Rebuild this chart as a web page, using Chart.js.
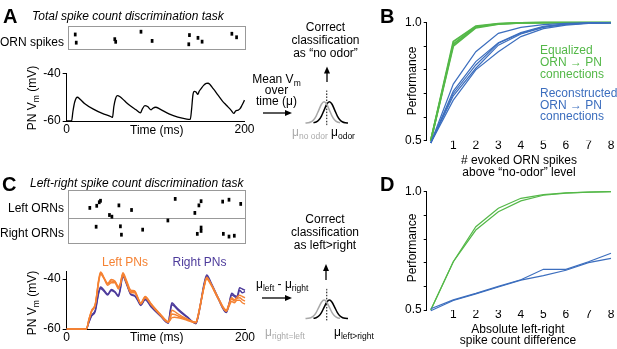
<!DOCTYPE html>
<html>
<head>
<meta charset="utf-8">
<script src="https://cdn.jsdelivr.net/npm/chart.js@4.4.1/dist/chart.umd.min.js"></script>
<style>
body { margin: 0; background: #fff; }
#fig { position: relative; width: 617px; height: 349px; overflow: hidden; font-family: "Liberation Sans", Arial, sans-serif; font-size: 12px; color: #000; }
#fig canvas, .t { position: absolute; }
.t { white-space: nowrap; line-height: 12px; }
.big { font-weight: bold; font-size: 20px; line-height: 20px; }
.it { font-style: italic; }
.c { text-align: center; }
.r { text-align: right; }
.rot { transform: translate(-50%, -50%) rotate(-90deg); }
sub { font-size: 8.5px; vertical-align: baseline; position: relative; top: 3px; }
.box { position: absolute; border: 1px solid #999; box-sizing: border-box; }
.green { color: #54b848; }
.blue { color: #3c6ebe; }
.gray { color: #aaa; }
svg { position: absolute; left: 0; top: 0; }
</style>
</head>
<body>
<div id="fig">
  <div class="box" style="left:68px;top:26px;width:178px;height:24px"></div>
  <div class="box" style="left:68px;top:190px;width:178px;height:54px"></div>
  <div style="position:absolute;left:68px;top:218px;width:178px;height:1px;background:#999"></div>

  <canvas id="rasterA"></canvas>
  <canvas id="traceA"></canvas>
  <canvas id="gaussA"></canvas>
  <canvas id="perfB"></canvas>
  <canvas id="rasterC"></canvas>
  <canvas id="traceC"></canvas>
  <canvas id="gaussC"></canvas>
  <canvas id="perfD"></canvas>

  <svg width="617" height="349">
    <g stroke="#000" stroke-width="1.3" fill="#000">
      <line x1="263" y1="113" x2="286" y2="113"/><polygon points="292,113 285,110 285,116" stroke="none"/>
      <line x1="327" y1="82" x2="327" y2="72"/><polygon points="327,66.5 324,73.5 330,73.5" stroke="none"/>
      <line x1="262" y1="298" x2="286" y2="298"/><polygon points="292,298 285,295 285,301" stroke="none"/>
      <line x1="326" y1="280" x2="326" y2="270"/><polygon points="326,264 323,271 329,271" stroke="none"/>
    </g>
  </svg>

  <div class="t big" style="left:3px;top:6px">A</div>
  <div class="t big" style="left:380px;top:6px">B</div>
  <div class="t big" style="left:2px;top:174px">C</div>
  <div class="t big" style="left:380px;top:174px">D</div>

  <div class="t it" style="left:32px;top:10.3px">Total spike count discrimination task</div>
  <div class="t it" style="left:30px;top:176.5px">Left-right spike count discrimination task</div>

  <div class="t r" style="left:0;top:35.5px;width:64px">ORN spikes</div>
  <div class="t r" style="left:0;top:202px;width:64px">Left ORNs</div>
  <div class="t r" style="left:0;top:226.5px;width:64px">Right ORNs</div>

  <div class="t rot" style="left:31.5px;top:97.5px">PN V<sub>m</sub> (mV)</div>
  <div class="t" style="left:130px;top:123.5px">Time (ms)</div>
  <div class="t rot" style="left:31.5px;top:303px">PN V<sub>m</sub> (mV)</div>
  <div class="t" style="left:130px;top:331px">Time (ms)</div>
  <div class="t" style="left:102px;top:255.5px;color:#f58233">Left PNs</div>
  <div class="t" style="left:172.5px;top:255.5px;color:#4d3b9b">Right PNs</div>

  <div class="t c" style="left:265px;top:21.3px;width:121px;line-height:13px">Correct<br>classification<br>as “no odor”</div>
  <div class="t c" style="left:236.5px;top:73.6px;width:80px;line-height:10.5px">Mean V<sub>m</sub><br>over<br>time (μ)</div>
  <div class="t gray" style="left:292px;top:125.5px">μ<sub>no odor</sub></div>
  <div class="t" style="left:331px;top:126px">μ<sub>odor</sub></div>

  <div class="t c" style="left:265px;top:212.6px;width:120px;line-height:13px">Correct<br>classification<br>as left&gt;right</div>
  <div class="t" style="left:256px;top:278px">μ<sub>left</sub> - μ<sub>right</sub></div>
  <div class="t gray" style="left:265px;top:326px">μ<sub>right=left</sub></div>
  <div class="t" style="left:334px;top:326px">μ<sub>left&gt;right</sub></div>

  <div class="t rot" style="left:411.7px;top:80.8px">Performance</div>
  <div class="t rot" style="left:411.7px;top:247.5px">Performance</div>
  <div class="t c" style="left:459px;top:153.8px;width:120px">#&nbsp;evoked ORN spikes<br>above “no-odor” level</div>
  <div class="t c" style="left:458px;top:323.5px;width:120px;line-height:11px">Absolute left-right<br>spike count difference</div>
  <div class="t green" style="left:540px;top:43.8px">Equalized<br>ORN → PN<br>connections</div>
  <div class="t blue" style="left:540px;top:88px;line-height:11.7px">Reconstructed<br>ORN → PN<br>connections</div>
</div>

<script>
// ---- panel A: ORN raster + PN trace
const aSpikeTimes = [3, 4.2, 49.9, 51, 81, 94.2, 138.5, 137.7, 148.6, 153.5, 188.8, 194.4];
const aSpikeRows = [0.74, 0.18, 0.42, 0.24, 0.93, 0.30, 0.70, 0.07, 0.51, 0.25, 0.79, 0.55];
const aTime = [0, 5.5, 7, 9, 12, 15, 20, 30, 40, 50, 51.5, 53, 55, 57, 60, 65, 70, 78, 83, 85, 88, 91, 95, 97, 100, 105, 115, 125, 135, 139,
  140.5, 142, 143.5, 145.5, 147.5, 149, 151, 154, 157, 159, 165, 170, 175, 180, 185, 188, 190, 193, 195, 197, 200];
const aVm = [-60, -60, -56, -52, -50, -50.8, -52.6, -55, -56.8, -58.2, -58.5, -54, -50.5, -49.3, -49.8, -51.5, -53.2, -55.3, -56.6, -55, -53.5, -53.9, -55.3, -54.6, -54.2, -55, -57, -58.4, -59.2, -59.3,
  -55, -49, -47.5, -47.8, -48.8, -47.5, -46.5, -45, -44.2, -44.1, -46.5, -49, -51.5, -53.5, -55.5, -56.8, -55.8, -55.4, -54.8, -53.5, -51.2];

// ---- schematic gaussians (shared by A and C)
const grayX = [-4, -3.5, -3, -2.5, -2, -1.5, -1, -0.5, 0, 0.5, 1, 1.5, 2, 2.5];
const grayY = [0.002, 0.011, 0.044, 0.135, 0.325, 0.607, 0.882, 1, 0.882, 0.607, 0.325, 0.135, 0.044, 0.011];
const blackX = [-2.5, -2, -1.5, -1, -0.5, 0, 0.5, 1, 1.5, 2, 2.5, 3, 3.5, 4];
const blackY = [0.011, 0.044, 0.135, 0.325, 0.607, 0.882, 1, 0.882, 0.607, 0.325, 0.135, 0.044, 0.011, 0.002];
const cutX = [0, 0];
const cutY = [-0.1, 1.6];

// ---- panel B: performance vs evoked spikes
const spikeCounts = [0, 1, 2, 3, 4, 5, 6, 7, 8];
const countTicks = [1, 2, 3, 4, 5, 6, 7, 8];
const perfTicks = [0.5, 0.6, 0.7, 0.8, 0.9, 1.0];
const bEqualized = [
  [0.5, 0.92, 0.986, 0.996, 0.999, 1, 1, 1, 1],
  [0.5, 0.901, 0.978, 0.994, 0.999, 1, 1, 1, 1],
  [0.5, 0.91, 0.982, 0.995, 0.999, 1, 1, 1, 1]
];
const bReconstructed = [
  [0.49, 0.74, 0.877, 0.955, 0.98, 0.992, 0.997, 0.999, 1],
  [0.49, 0.71, 0.835, 0.915, 0.958, 0.985, 0.995, 0.998, 1],
  [0.49, 0.70, 0.821, 0.913, 0.955, 0.982, 0.994, 0.998, 1],
  [0.49, 0.69, 0.807, 0.905, 0.952, 0.98, 0.993, 0.998, 1],
  [0.49, 0.672, 0.80, 0.877, 0.941, 0.975, 0.99, 0.997, 1]
];

// ---- panel C: left / right rasters + PN traces
const cLeftSpikeTimes = [20.3, 28.5, 31.5, 33, 54.8, 69.8, 43.6, 46.5, 121.6, 144.9, 149.7, 152.3, 177.9, 185.4, 199.3];
const cLeftSpikeRows = [1.50, 1.60, 1.77, 1.84, 1.62, 1.40, 1.16, 1.08, 1.93, 1.26, 1.62, 1.82, 1.80, 1.89, 1.69];
const cRightSpikeTimes = [27.8, 56.6, 57.8, 83, 112.9, 147.8, 152.3, 152.3, 178.7, 185.4, 191.7];
const cRightSpikeRows = [0.60, 0.62, 0.22, 0.46, 0.90, 0.26, 0.56, 0.40, 0.26, 0.13, 0.17];
const cTime = [0, 22, 25, 28, 32, 36, 38, 42, 46, 50, 54, 58, 60, 63, 67, 72, 76, 80, 83, 88, 95, 105, 114, 116, 118,
  121, 125, 135, 145, 147, 150, 154, 157, 162, 170, 179, 182, 185, 188, 191, 194, 197, 200];
const cLeftPN = [
  [-60, -60, -56, -52.5, -50, -40, -37.2, -39.5, -41.7, -40.2, -40.8, -43, -42, -37.5, -40.5, -44.5, -44.7, -47.5, -49.7, -47, -50, -54, -57, -55, -52.5,
    -53, -54, -56, -57.3, -55, -50, -43, -39.3, -42, -47.5, -52.4, -50, -47.5, -48.3, -47.3, -46.5, -47, -47.5],
  [-60, -60, -56.5, -53, -50.5, -41, -38, -40, -42.5, -41.5, -41.5, -44, -42.5, -38.5, -41.5, -45.5, -45.5, -48, -50, -47.5, -50.5, -54.5, -57.3, -56.5, -55.5,
    -55.3, -55.5, -56.5, -57.5, -55.5, -50.5, -43.5, -40, -42.5, -48, -53, -51, -49, -49.5, -48.5, -48.5, -49.5, -50],
  [-60, -60, -56, -52.8, -50.3, -40.5, -37.6, -39.8, -42, -40.8, -41, -43.5, -42.2, -38, -41, -45, -45, -47.8, -49.8, -47.2, -50.2, -54.2, -57.2, -56, -54,
    -54.2, -54.8, -56.2, -57.4, -55.2, -50.2, -43.2, -39.6, -42.2, -47.8, -52.7, -50.5, -48, -48.8, -47.8, -47.5, -48.3, -48.8]
];
const cRightPN = [
  [-60, -60, -57, -54.5, -52.5, -45, -43.2, -44.5, -46, -44.2, -45, -46.7, -44, -38.3, -41.5, -46, -46.5, -48.5, -50.4, -48, -51, -54.5, -57.5, -53, -49.5,
    -50.5, -52, -55, -57.7, -55.5, -50, -42, -38.4, -41.5, -47.5, -53.1, -50, -45.7, -46.5, -47, -43.5, -44, -44.5],
  [-60, -60, -57.3, -54.8, -53, -45.5, -43.8, -45, -46.4, -44.6, -45.3, -47, -44.5, -39, -42, -46.3, -46.8, -48.8, -50.6, -48.3, -51.3, -54.8, -57.7, -53.5, -50.3,
    -51, -52.5, -55.3, -57.9, -55.8, -50.5, -42.6, -39, -42, -48, -53.4, -50.5, -46.3, -47, -47.5, -44.5, -45.5, -45]
];
const vmTicks = [-60, -40];
const timeTicks = [0, 200];

// ---- panel D: performance vs left-right difference
const dEqualized = [
  [0.5, 0.704, 0.852, 0.930, 0.972, 0.988, 0.995, 0.998, 1],
  [0.5, 0.704, 0.838, 0.915, 0.961, 0.985, 0.994, 0.998, 1]
];
const dReconstructed = [
  [0.505, 0.543, 0.570, 0.600, 0.628, 0.672, 0.672, 0.704, 0.740],
  [0.497, 0.540, 0.568, 0.597, 0.626, 0.645, 0.668, 0.700, 0.718]
];

const GREEN = '#54b848', BLUE = '#3c6ebe', ORANGE = '#f58233', PURPLE = '#4d3b9b';

Chart.defaults.font.family = '"Liberation Sans", Arial, sans-serif';
Chart.defaults.font.size = 12;
Chart.defaults.color = '#000';
Chart.defaults.animation = false;
Chart.defaults.responsive = false;
Chart.defaults.devicePixelRatio = 1;
Chart.defaults.plugins.legend.display = false;
Chart.defaults.plugins.tooltip.enabled = false;
Chart.defaults.elements.point.radius = 0;

function pts(xs, ys) {
  return xs.map((x, i) => ({ x: x, y: ys[i] }));
}

function line(xs, ys, color, width, extra) {
  return Object.assign({
    data: pts(xs, ys), borderColor: color, borderWidth: width, pointRadius: 0,
    fill: false, clip: false, cubicInterpolationMode: 'monotone'
  }, extra || {});
}

function spikes(xs, ys) {
  return {
    data: pts(xs, ys), showLine: false, pointStyle: 'line', pointRotation: 90,
    pointRadius: 1.9, pointBorderWidth: 2.7, pointBorderColor: '#000', clip: false
  };
}

function tickList(values) {
  return s => { s.ticks = values.map(v => ({ value: v })); };
}

// area = plot rectangle in page pixels, pad = room around it for labels
function place(id, area, pad, datasets, scales, axes) {
  const cv = document.getElementById(id);
  const left = Math.floor(area[0] - pad[0]), top = Math.floor(area[1] - pad[1]);
  const right = Math.ceil(area[2] + pad[2]), bottom = Math.ceil(area[3] + pad[3]);
  cv.width = right - left;
  cv.height = bottom - top;
  cv.style.left = left + 'px';
  cv.style.top = top + 'px';
  const pl = area[0] - left, pt = area[1] - top, pr = right - area[2], pb = bottom - area[3];
  if (axes) {
    scales.y.afterFit = s => { s.width = pl; s.paddingTop = 0; s.paddingBottom = 0; };
    scales.x.afterFit = s => { s.height = pb; s.paddingLeft = 0; s.paddingRight = 0; };
  }
  return new Chart(cv, {
    type: 'line',
    data: { datasets: datasets },
    options: {
      layout: { padding: axes ? { left: 0, top: pt, right: pr, bottom: 0 } : { left: pl, top: pt, right: pr, bottom: pb } },
      scales: scales
    }
  });
}

const hidden = (min, max) => ({ type: 'linear', display: false, min: min, max: max });

function vmScales(yMax) {
  return {
    x: {
      type: 'linear', min: 0, max: 200, afterBuildTicks: tickList(timeTicks),
      grid: { display: false, drawTicks: false }, border: { display: true, color: '#000' },
      ticks: { padding: 1, maxRotation: 0, autoSkip: false }
    },
    y: {
      type: 'linear', min: -60, max: yMax, afterBuildTicks: tickList(vmTicks),
      grid: { display: true, drawOnChartArea: false, tickLength: 4, color: '#000' },
      border: { display: true, color: '#000' },
      ticks: { padding: 2 }
    }
  };
}

function perfScales() {
  return {
    x: {
      type: 'linear', min: -0.18, max: 8, afterBuildTicks: tickList(countTicks),
      grid: { display: false, drawTicks: false }, border: { display: false },
      ticks: { padding: -1, font: { lineHeight: 1 }, maxRotation: 0, autoSkip: false }
    },
    y: {
      type: 'linear', min: 0.5, max: 1, afterBuildTicks: tickList(perfTicks),
      grid: { display: true, drawOnChartArea: false, tickLength: 3, color: '#000' },
      border: { display: true, color: '#000' },
      ticks: { padding: 2, callback: v => (Math.abs(v - 1) < 1e-6 || Math.abs(v - 0.5) < 1e-6) ? v.toFixed(1) : '' }
    }
  };
}

function gaussSets() {
  return [
    line(grayX, grayY, '#a8a8a8', 1.5),
    line(blackX, blackY, '#000', 1.5),
    line(cutX, cutY, '#000', 1, { borderDash: [1.5, 1.5] })
  ];
}

// A
place('rasterA', [68, 26, 245.5, 50], [2, 2, 2, 2],
  [spikes(aSpikeTimes, aSpikeRows)], { x: hidden(0, 200), y: hidden(0, 1) }, false);
place('traceA', [66.7, 73.5, 244.5, 121], [46, 8, 15, 18],
  [line(aTime, aVm, '#000', 1.3)], vmScales(-40), true);
place('gaussA', [305.5, 89, 348, 125.1], [2, 2, 2, 2],
  gaussSets(), { x: hidden(-4, 4), y: hidden(-0.1, 1.6) }, false);

// B
place('perfB', [426.7, 22.7, 611, 140.7], [30, 8, 5, 14],
  bReconstructed.map(ys => line(spikeCounts, ys, BLUE, 1.2, { cubicInterpolationMode: 'default', tension: 0 }))
    .concat(bEqualized.map(ys => line(spikeCounts, ys, GREEN, 1.8, { cubicInterpolationMode: 'default', tension: 0 }))),
  perfScales(), true);

// C
place('rasterC', [68, 190, 245.5, 243.3], [2, 2, 2, 2],
  [spikes(cLeftSpikeTimes, cLeftSpikeRows), spikes(cRightSpikeTimes, cRightSpikeRows)],
  { x: hidden(0, 200), y: hidden(0, 2.13) }, false);
place('traceC', [66.7, 271, 245, 329], [46, 4, 15, 16],
  cLeftPN.map(ys => line(cTime, ys, ORANGE, 1.4)).concat(cRightPN.map(ys => line(cTime, ys, PURPLE, 1.4))),
  vmScales(-36.8), true);
place('gaussC', [305.5, 288.9, 348, 320.4], [2, 2, 2, 2],
  gaussSets(), { x: hidden(-4, 4), y: hidden(-0.1, 1.6) }, false);

// D
place('perfD', [426.7, 191.7, 611, 310], [30, 8, 5, 14],
  dReconstructed.map(ys => line(spikeCounts, ys, BLUE, 1.2, { cubicInterpolationMode: 'default', tension: 0 }))
    .concat(dEqualized.map(ys => line(spikeCounts, ys, GREEN, 1.2, { cubicInterpolationMode: 'default', tension: 0 }))),
  perfScales(), true);
</script>
</body>
</html>
